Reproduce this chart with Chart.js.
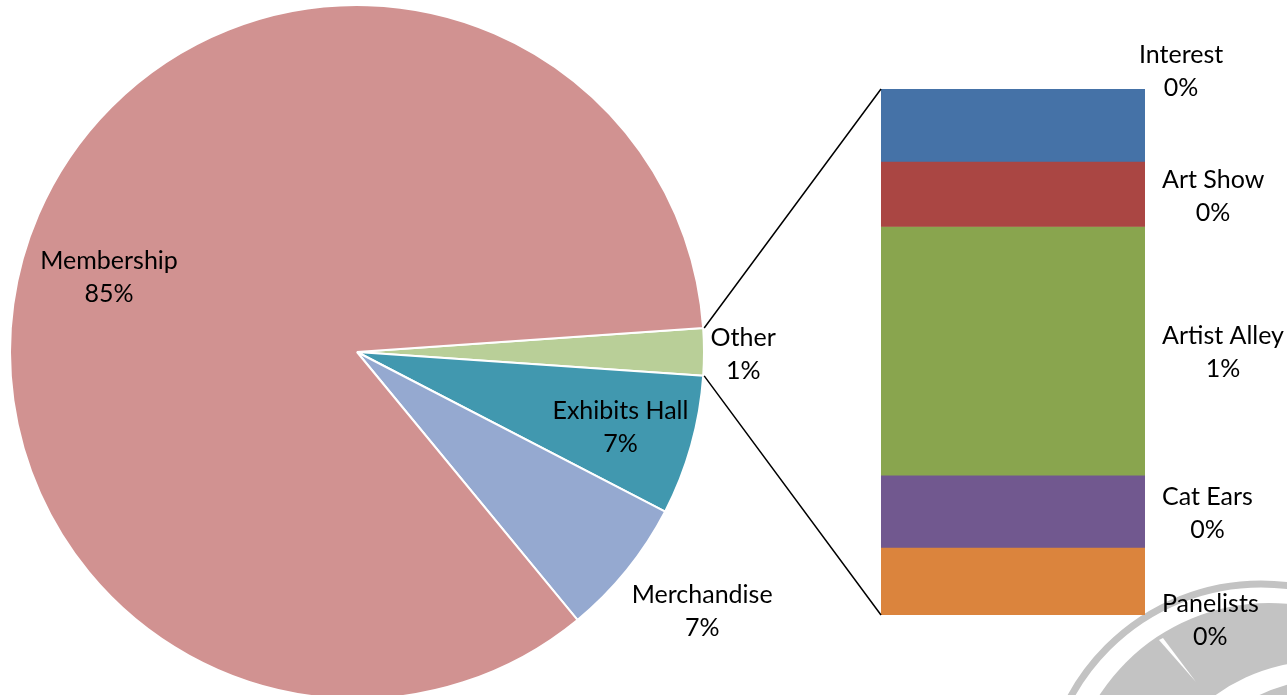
<!DOCTYPE html>
<html>
<head>
<meta charset="utf-8">
<script src="https://cdn.jsdelivr.net/npm/chart.js@4/dist/chart.umd.min.js"></script>
<style>
  html, body { margin: 0; padding: 0; background: #fff; overflow: hidden; }
  canvas { position: absolute; left: 0; top: 0; }
</style>
</head>
<body>
<canvas id="pie" width="1287" height="695"></canvas>
<canvas id="bar" width="1287" height="695"></canvas>
<script>
// Pie slices, clockwise from the "Other" slice at 3 o'clock
const pieNames = ['Other', 'Exhibits Hall', 'Merchandise', 'Membership'];
const pieShares = [2.19, 6.51, 6.44, 84.85];
const pieLabels = ['1%', '7%', '7%', '85%'];
const pieColors = ['#B9CF98', '#4198AF', '#95A9D0', '#D19291'];

// Breakdown of "Other", top to bottom
const otherNames = ['Interest', 'Art Show', 'Artist Alley', 'Cat Ears', 'Panelists'];
const otherShares = [0.30, 0.27, 1.03, 0.30, 0.28];
const otherLabels = ['0%', '0%', '1%', '0%', '0%'];
const otherColors = ['#4572A7', '#AA4643', '#89A54E', '#71588F', '#DB843D'];

const FONT = '25px Lato, "Open Sans", sans-serif';
const LINE_GAP = 33;

// label placement (polar, relative to slice mid-angle) and bar label offsets
const pieLabelRadius = [1.113, 0.79, 1.245, 0.746];
const pieLabelTurn = [0.3, 0.4, -2, -6.6];
const barLabelDx = [-6, 17, 17, 17, 17];
const barLabelDy = [-53.5, 2, 1.5, 2, 39];

function drawTwoLines(ctx, a, b, cx, cy) {
  ctx.fillText(a, cx, cy - LINE_GAP / 2);
  ctx.fillText(b, cx, cy + LINE_GAP / 2);
}

const pieLabelPlugin = {
  id: 'pieLabels',
  afterDatasetsDraw(chart) {
    const ctx = chart.ctx;
    const arcs = chart.getDatasetMeta(0).data;
    ctx.save();
    ctx.font = FONT;
    ctx.fillStyle = '#000';
    ctx.textAlign = 'center';
    ctx.textBaseline = 'middle';
    arcs.forEach((arc, i) => {
      const mid = (arc.startAngle + arc.endAngle) / 2 + pieLabelTurn[i] * Math.PI / 180;
      const r = arc.outerRadius * pieLabelRadius[i];
      drawTwoLines(ctx, pieNames[i], pieLabels[i], arc.x + r * Math.cos(mid), arc.y + r * Math.sin(mid));
    });
    ctx.restore();
  }
};

const pieChart = new Chart(document.getElementById('pie'), {
  type: 'pie',
  data: {
    labels: pieNames,
    datasets: [{
      data: pieShares,
      backgroundColor: pieColors,
      borderColor: '#fff',
      borderWidth: 2,
      radius: 347,
    }],
  },
  options: {
    responsive: false,
    animation: false,
    rotation: 86.05,
    layout: { padding: { left: 11, right: 584, top: 12, bottom: 3 } },
    plugins: { legend: { display: false }, tooltip: { enabled: false } },
  },
  plugins: [pieLabelPlugin],
});

// faint logo watermark in the lower right corner
const watermarkPlugin = {
  id: 'watermark',
  beforeDraw(chart) {
    const ctx = chart.ctx;
    const cx = 1261, cy = 801;
    ctx.save();
    ctx.strokeStyle = '#C3C3C3';
    ctx.fillStyle = '#C3C3C3';
    ctx.lineWidth = 7;
    ctx.beginPath();
    ctx.arc(cx, cy, 217, 0, Math.PI * 2);
    ctx.stroke();
    ctx.beginPath();
    ctx.arc(cx + 8, cy + 4, 202, 0, Math.PI * 2);
    ctx.fill();
    ctx.fillStyle = '#fff';
    ctx.beginPath();
    ctx.arc(cx + 60, cy + 40, 180, Math.PI * 1.05, Math.PI * 1.6);
    ctx.arc(cx + 70, cy + 46, 168, Math.PI * 1.6, Math.PI * 1.05, true);
    ctx.closePath();
    ctx.fill();
    ctx.beginPath();
    ctx.moveTo(1159, 640);
    ctx.lineTo(1163, 638);
    ctx.lineTo(1196, 682);
    ctx.closePath();
    ctx.fill();
    ctx.restore();
  }
};

const connectorPlugin = {
  id: 'connectors',
  afterDatasetsDraw(chart) {
    const ctx = chart.ctx;
    const other = pieChart.getDatasetMeta(0).data[0];
    const bars = chart.data.datasets.map((d, i) => chart.getDatasetMeta(i).data[0]);
    const left = bars[0].x - bars[0].width / 2;
    const tops = bars.map(b => Math.min(b.y, b.base));
    const bottoms = bars.map(b => Math.max(b.y, b.base));
    const R = other.outerRadius + 1;
    ctx.save();
    ctx.strokeStyle = '#000';
    ctx.lineWidth = 1.5;
    ctx.beginPath();
    ctx.moveTo(other.x + R * Math.cos(other.startAngle), other.y + R * Math.sin(other.startAngle));
    ctx.lineTo(left, Math.min(...tops));
    ctx.moveTo(other.x + R * Math.cos(other.endAngle), other.y + R * Math.sin(other.endAngle));
    ctx.lineTo(left, Math.max(...bottoms));
    ctx.stroke();

    // segment labels to the right of the bar
    ctx.font = FONT;
    ctx.fillStyle = '#000';
    ctx.textAlign = 'center';
    ctx.textBaseline = 'middle';
    bars.forEach((b, i) => {
      const w = Math.max(ctx.measureText(otherNames[i]).width, ctx.measureText(otherLabels[i]).width);
      const cx = b.x + b.width / 2 + barLabelDx[i] + w / 2;
      const cy = (b.y + b.base) / 2 + barLabelDy[i];
      drawTwoLines(ctx, otherNames[i], otherLabels[i], cx, cy);
    });
    ctx.restore();
  }
};

const otherTotal = otherShares.reduce((a, b) => a + b, 0);

new Chart(document.getElementById('bar'), {
  type: 'bar',
  data: {
    labels: ['Other'],
    datasets: otherNames.map((name, i) => ({
      label: name,
      data: [otherShares[i]],
      backgroundColor: otherColors[i],
      borderWidth: 0,
      barPercentage: 1,
      categoryPercentage: 1,
    })),
  },
  options: {
    responsive: false,
    animation: false,
    layout: { padding: { left: 881, right: 142, top: 89, bottom: 80 } },
    scales: {
      x: { display: false, stacked: true },
      y: { display: false, stacked: true, reverse: true, min: 0, max: otherTotal },
    },
    plugins: { legend: { display: false }, tooltip: { enabled: false } },
  },
  plugins: [watermarkPlugin, connectorPlugin],
});
</script>
</body>
</html>
